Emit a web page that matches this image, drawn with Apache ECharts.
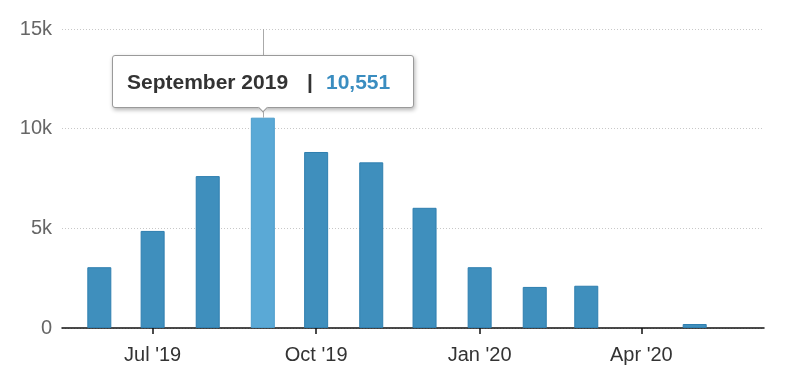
<!DOCTYPE html>
<html>
<head>
<meta charset="utf-8">
<script src="https://cdn.jsdelivr.net/npm/echarts@6/dist/echarts.min.js"></script>
<style>
html,body{margin:0;padding:0;background:#fff;}
#chart{width:800px;height:384px;}
</style>
</head>
<body>
<div id="chart"></div>
<script>
// Data
var months = ['2019-06-01','2019-07-01','2019-08-01','2019-09-01','2019-10-01','2019-11-01','2019-12-01','2020-01-01','2020-02-01','2020-03-01','2020-04-01','2020-05-01'];
var monthNames = ['June 2019','July 2019','August 2019','September 2019','October 2019','November 2019','December 2019','January 2020','February 2020','March 2020','April 2020','May 2020'];
var values = [3050, 4870, 7620, 10551, 8830, 8310, 6030, 3050, 2060, 2120, 0, 200];
var xTickDates = ['2019-07-01','2019-10-01','2020-01-01','2020-04-01'];
var xTickLabels = ["Jul '19","Oct '19","Jan '20","Apr '20"];
var yTicks = [0, 5000, 10000, 15000];
var yTickLabels = ['0','5k','10k','15k'];
var highlightIndex = 3;

function ts(s){ var p = s.split('-'); return Date.UTC(+p[0], +p[1]-1, +p[2]); }

var font = "'Liberation Sans', Arial, Helvetica, sans-serif";
var chart = echarts.init(document.getElementById('chart'), null, {renderer:'canvas'});
var tickTs = xTickDates.map(ts);

var seriesData = months.map(function(m, i){
  var d = {value:[ts(m), values[i]], name: monthNames[i]};
  if (i === highlightIndex) d.itemStyle = {color:'#5aa9d6', borderColor:'#4d9dcc'};
  if (values[i] === 0) d.itemStyle = {borderWidth:0};
  return d;
});

chart.setOption({
  animation:false,
  grid:{left:62, right:36, top:29, bottom:56},
  tooltip:{
    trigger:'item',
    triggerOn:'none',
    alwaysShowContent:true,
    position:'top',
    transitionDuration:0,
    backgroundColor:'#fff',
    borderColor:'#9a9a9a',
    borderWidth:1,
    padding:0,
    extraCssText:'border-radius:3px;box-shadow:1px 2px 4px rgba(0,0,0,0.3);',
    formatter:function(p){
      return '<div style="width:300px;height:51px;box-sizing:border-box;padding:0 0 0 14px;line-height:51px;font-family:Liberation Sans,Arial,sans-serif;font-size:21px;font-weight:bold;color:#333;white-space:nowrap;">'+
        p.name+'<span style="display:inline-block;margin:0 13px 0 19px;">|</span><span style="color:#3a8dc0;">'+values[p.dataIndex].toLocaleString('en-US')+'</span></div>';
    }
  },
  xAxis:{
    type:'value',
    min:ts('2019-05-11'),
    max:ts('2020-06-09'),
    axisLine:{show:true, onZero:false, lineStyle:{color:'#111', width:1.5}},
    axisTick:{show:true, customValues:tickTs, length:6, lineStyle:{color:'#111', width:1.5}},
    axisLabel:{
      customValues:tickTs,
      formatter:function(v){ var i = tickTs.indexOf(v); return i >= 0 ? xTickLabels[i] : ''; },
      color:'#333', fontSize:20, fontFamily:font, margin:17
    },
    splitLine:{show:false}
  },
  yAxis:{
    type:'value',
    min:yTicks[0], max:yTicks[yTicks.length-1], interval:5000,
    axisLine:{show:false},
    axisTick:{show:false},
    axisLabel:{
      formatter:function(v){ var i = yTicks.indexOf(v); return i >= 0 ? yTickLabels[i] : ''; },
      color:'#666', fontSize:20, fontFamily:font, margin:10
    },
    splitLine:{show:true, lineStyle:{color:'#c8c8c8', type:[1,2], width:1}}
  },
  series:[{
    type:'bar',
    barWidth:24,
    data:seriesData,
    itemStyle:{color:'#3f8fbd', borderColor:'#2f7fb0', borderWidth:1},
    emphasis:{disabled:true},
    markLine:{
      silent:true,
      symbol:['none','none'],
      label:{show:false},
      lineStyle:{color:'#aaa', type:'solid', width:1},
      data:[[{coord:[ts(months[highlightIndex]), yTicks[yTicks.length-1]]},{coord:[ts(months[highlightIndex]), values[highlightIndex]]}]]
    }
  }]
});
chart.dispatchAction({type:'showTip', seriesIndex:0, dataIndex:highlightIndex});
</script>
</body>
</html>
